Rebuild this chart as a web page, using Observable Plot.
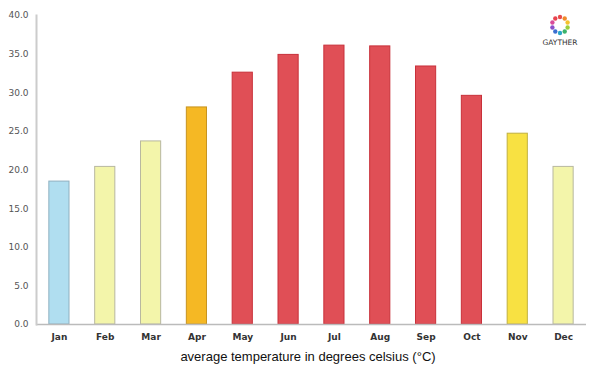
<!DOCTYPE html>
<html>
<head>
<meta charset="utf-8">
<script src="https://cdn.jsdelivr.net/npm/d3@7"></script>
<script src="https://cdn.jsdelivr.net/npm/@observablehq/plot@0.6"></script>
<style>
  body { margin: 0; background: #fff; }
  #wrap { position: relative; width: 600px; height: 375px; }
  #caption { position: absolute; left: 0; top: 349px; width: 616px; text-align: center;
    font: 13px "Liberation Sans", Arial, sans-serif; color: #111; line-height: 16px; }
  #logo { position: absolute; left: 538px; top: 12px; width: 44px; height: 36px; }
</style>
</head>
<body>
<div id="wrap">
  <div id="chart"></div>
  <div id="caption">average temperature in degrees celsius (°C)</div>
  <svg id="logo" width="44" height="36"></svg>
</div>
<script>
const months = ["Jan","Feb","Mar","Apr","May","Jun","Jul","Aug","Sep","Oct","Nov","Dec"];
const temps = [18.5, 20.4, 23.7, 28.1, 32.6, 34.9, 36.1, 36.0, 33.4, 29.6, 24.7, 20.4];
const fills = ["#b0def0","#f3f5aa","#f3f5aa","#f5b824","#e04f56","#e04f56","#e04f56","#e04f56","#e04f56","#e04f56","#f8e142","#f3f5aa"];
const strokes = ["#8fb0c0","#b8b8a0","#b8b8a0","#c79420","#c8303a","#c8303a","#c8303a","#c8303a","#c8303a","#c8303a","#c0b040","#b8b8a0"];
const yTicks = [0, 5, 10, 15, 20, 25, 30, 35, 40];

const data = months.map((m, i) => ({month: m, temp: temps[i], fill: fills[i], stroke: strokes[i]}));

const chart = Plot.plot({
  width: 600,
  height: 348,
  marginLeft: 36,
  marginRight: 14,
  marginTop: 15,
  marginBottom: 24,
  style: {fontFamily: "'DejaVu Sans', sans-serif", fontSize: "9px", color: "#444", background: "#fff"},
  x: {domain: months, paddingInner: 0.56, paddingOuter: 0.28, round: false, label: null},
  y: {domain: [0, 40], label: null},
  marks: [
    Plot.axisY({ticks: yTicks, tickFormat: d => d.toFixed(1), tickSize: 0, tickPadding: 8, fontSize: 9, fill: "#555", label: null}),
    Plot.axisX({tickSize: 0, tickPadding: 9, fontSize: 9, fontWeight: "bold", fill: "#333", label: null}),
    Plot.barY(data, {x: "month", y: "temp", fill: d => d.fill, stroke: d => d.stroke, strokeWidth: 1}),
    Plot.ruleY([0], {stroke: "#bbb", strokeWidth: 1.5}),
    Plot.frame({anchor: "left", stroke: "#ccc", strokeWidth: 2})
  ]
});
document.getElementById("chart").appendChild(chart);

// decorative logo
const logo = d3.select("#logo");
const cols = ["#e84b4b","#f08a2c","#f5c22c","#9ccf3a","#3bb36b","#2aa6c9","#3b6fd0","#8a4fc9","#d84b9a","#e8434f"];
cols.forEach((c, i) => {
  const a = (i / cols.length) * 2 * Math.PI - Math.PI / 2;
  logo.append("circle").attr("cx", 22 + 8 * Math.cos(a)).attr("cy", 13 + 8 * Math.sin(a)).attr("r", 2.2).attr("fill", c);
});
logo.append("text").attr("x", 22).attr("y", 33).attr("text-anchor", "middle")
  .attr("font-family", "'DejaVu Sans', sans-serif").attr("font-size", 7.5).attr("fill", "#333").text("GAYTHER");
</script>
</body>
</html>
